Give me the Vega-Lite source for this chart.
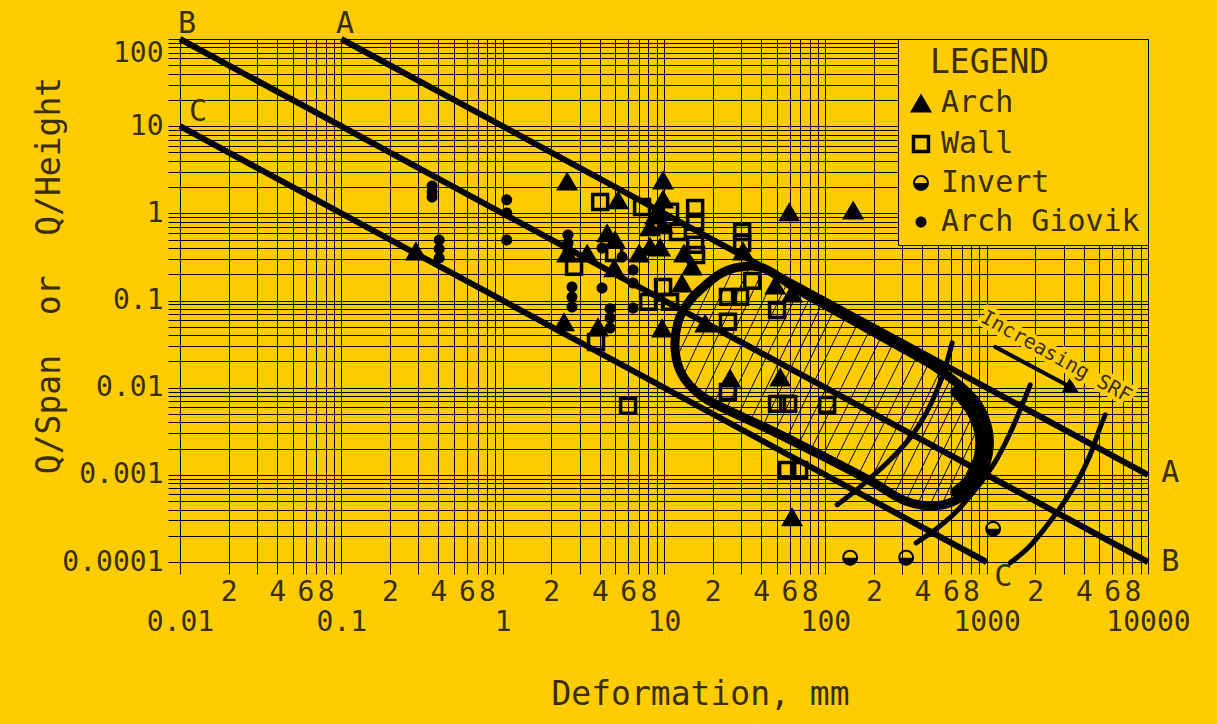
{
  "$schema": "https://vega.github.io/schema/vega-lite/v6.json",
  "width": 968,
  "height": 523,
  "autosize": "none",
  "padding": {"left": 180, "top": 39, "right": 69, "bottom": 162},
  "background": "#FFCC00",
  "config": {
    "view": {"stroke": null},
    "font": "DejaVu Sans Mono",
    "axis": {
      "labelFont": "DejaVu Sans Mono",
      "titleFont": "DejaVu Sans Mono",
      "labelColor": "#3a2e00",
      "titleColor": "#3a2e00",
      "titleFontWeight": "normal",
      "gridColor": "#000000",
      "gridOpacity": 1,
      "gridWidth": 1,
      "tickColor": "#000000",
      "tickSize": 12,
      "tickWidth": 1,
      "domainColor": "#000000",
      "domainWidth": 1
    },
    "legend": {
      "orient": "top-right",
      "offset": 0,
      "fillColor": "#FFCC00",
      "strokeColor": "#000000",
      "padding": 8,
      "titleFont": "DejaVu Sans Mono",
      "titleFontSize": 33,
      "titleFontWeight": "normal",
      "titleColor": "#3a2e00",
      "titlePadding": 8,
      "labelFont": "DejaVu Sans Mono",
      "labelFontSize": 30,
      "labelColor": "#3a2e00",
      "labelOffset": 5,
      "labelLimit": 0,
      "rowPadding": 9,
      "symbolSize": 484,
      "symbolStrokeWidth": 3.5
    }
  },
  "datasets": {
    "points": [
      {"type": "Arch", "x": 0.29, "y": 0.371},
      {"type": "Arch", "x": 2.51, "y": 2.35},
      {"type": "Arch", "x": 9.87, "y": 2.42},
      {"type": "Arch", "x": 5.19, "y": 1.43},
      {"type": "Arch", "x": 9.87, "y": 1.46},
      {"type": "Arch", "x": 8.81, "y": 0.96},
      {"type": "Arch", "x": 8.2, "y": 0.7},
      {"type": "Arch", "x": 9.87, "y": 0.74},
      {"type": "Arch", "x": 4.44, "y": 0.6},
      {"type": "Arch", "x": 4.98, "y": 0.5},
      {"type": "Arch", "x": 2.51, "y": 0.35},
      {"type": "Arch", "x": 3.34, "y": 0.35},
      {"type": "Arch", "x": 7.01, "y": 0.35},
      {"type": "Arch", "x": 8.2, "y": 0.42},
      {"type": "Arch", "x": 9.46, "y": 0.41},
      {"type": "Arch", "x": 4.91, "y": 0.237},
      {"type": "Arch", "x": 13.3, "y": 0.35},
      {"type": "Arch", "x": 14.9, "y": 0.249},
      {"type": "Arch", "x": 12.9, "y": 0.159},
      {"type": "Arch", "x": 30.9, "y": 0.371},
      {"type": "Arch", "x": 59.7, "y": 1.04},
      {"type": "Arch", "x": 148.7, "y": 1.09},
      {"type": "Arch", "x": 2.4, "y": 0.0569},
      {"type": "Arch", "x": 3.9, "y": 0.0498},
      {"type": "Arch", "x": 9.73, "y": 0.0485},
      {"type": "Arch", "x": 18.0, "y": 0.0553},
      {"type": "Arch", "x": 25.7, "y": 0.0129},
      {"type": "Arch", "x": 52.5, "y": 0.0133},
      {"type": "Arch", "x": 48.9, "y": 0.151},
      {"type": "Arch", "x": 62.2, "y": 0.122},
      {"type": "Arch", "x": 62.2, "y": 0.00033},
      {"type": "Wall", "x": 4.02, "y": 1.35},
      {"type": "Wall", "x": 7.31, "y": 1.18},
      {"type": "Wall", "x": 10.9, "y": 1.04},
      {"type": "Wall", "x": 15.6, "y": 1.15},
      {"type": "Wall", "x": 15.6, "y": 0.8},
      {"type": "Wall", "x": 12.2, "y": 0.61},
      {"type": "Wall", "x": 15.6, "y": 0.435},
      {"type": "Wall", "x": 15.8, "y": 0.333},
      {"type": "Wall", "x": 30.5, "y": 0.61},
      {"type": "Wall", "x": 30.5, "y": 0.458},
      {"type": "Wall", "x": 2.77, "y": 0.243},
      {"type": "Wall", "x": 4.91, "y": 0.35},
      {"type": "Wall", "x": 9.87, "y": 0.143},
      {"type": "Wall", "x": 7.97, "y": 0.0964},
      {"type": "Wall", "x": 10.9, "y": 0.0964},
      {"type": "Wall", "x": 24.9, "y": 0.11},
      {"type": "Wall", "x": 29.6, "y": 0.11},
      {"type": "Wall", "x": 35.2, "y": 0.168},
      {"type": "Wall", "x": 50.2, "y": 0.078},
      {"type": "Wall", "x": 24.9, "y": 0.0569},
      {"type": "Wall", "x": 3.79, "y": 0.0335},
      {"type": "Wall", "x": 5.99, "y": 0.00618},
      {"type": "Wall", "x": 24.9, "y": 0.00895},
      {"type": "Wall", "x": 50.2, "y": 0.00652},
      {"type": "Wall", "x": 58.8, "y": 0.00652},
      {"type": "Wall", "x": 102.6, "y": 0.00635},
      {"type": "Wall", "x": 58.0, "y": 0.00114},
      {"type": "Wall", "x": 68.8, "y": 0.00114},
      {"type": "Invert", "x": 142.6, "y": 0.000112},
      {"type": "Invert", "x": 317, "y": 0.000112},
      {"type": "Invert", "x": 1097, "y": 0.00024},
      {"type": "Arch Giovik", "x": 0.365, "y": 2.06},
      {"type": "Arch Giovik", "x": 0.365, "y": 1.76},
      {"type": "Arch Giovik", "x": 0.365, "y": 1.54},
      {"type": "Arch Giovik", "x": 0.404, "y": 0.496},
      {"type": "Arch Giovik", "x": 0.404, "y": 0.391},
      {"type": "Arch Giovik", "x": 0.404, "y": 0.308},
      {"type": "Arch Giovik", "x": 1.06, "y": 1.43},
      {"type": "Arch Giovik", "x": 1.06, "y": 1.01},
      {"type": "Arch Giovik", "x": 1.06, "y": 0.496},
      {"type": "Arch Giovik", "x": 2.54, "y": 0.565},
      {"type": "Arch Giovik", "x": 2.54, "y": 0.458},
      {"type": "Arch Giovik", "x": 2.54, "y": 0.38},
      {"type": "Arch Giovik", "x": 2.69, "y": 0.143},
      {"type": "Arch Giovik", "x": 2.69, "y": 0.11},
      {"type": "Arch Giovik", "x": 2.69, "y": 0.0845},
      {"type": "Arch Giovik", "x": 4.13, "y": 0.401},
      {"type": "Arch Giovik", "x": 4.13, "y": 0.139},
      {"type": "Arch Giovik", "x": 4.63, "y": 0.0802},
      {"type": "Arch Giovik", "x": 4.63, "y": 0.063},
      {"type": "Arch Giovik", "x": 4.63, "y": 0.0485},
      {"type": "Arch Giovik", "x": 5.5, "y": 0.316},
      {"type": "Arch Giovik", "x": 6.43, "y": 0.224},
      {"type": "Arch Giovik", "x": 6.43, "y": 0.159},
      {"type": "Arch Giovik", "x": 6.43, "y": 0.0822}
    ],
    "lines": [
      {"line": "A", "x": 0.1, "y": 100},
      {"line": "A", "x": 10000, "y": 0.001},
      {"line": "B", "x": 0.01, "y": 100},
      {"line": "B", "x": 10000, "y": 0.0001},
      {"line": "C", "x": 0.01, "y": 10},
      {"line": "C", "x": 1000, "y": 0.0001}
    ],
    "outline": [
      {"i": 0, "x": 16.74, "y": 0.1323},
      {"i": 1, "x": 22.27, "y": 0.2018},
      {"i": 2, "x": 29.64, "y": 0.2428},
      {"i": 3, "x": 42.36, "y": 0.2304},
      {"i": 4, "x": 69.78, "y": 0.1289},
      {"i": 5, "x": 142.5, "y": 0.06152},
      {"i": 6, "x": 290.8, "y": 0.02937},
      {"i": 7, "x": 479.3, "y": 0.01732},
      {"i": 8, "x": 684.9, "y": 0.01049},
      {"i": 9, "x": 885.6, "y": 0.00635},
      {"i": 10, "x": 1021.6, "y": 0.003281},
      {"i": 11, "x": 1021.6, "y": 0.001696},
      {"i": 12, "x": 885.6, "y": 0.000876},
      {"i": 13, "x": 684.9, "y": 0.000545},
      {"i": 14, "x": 479.3, "y": 0.000441},
      {"i": 15, "x": 312.2, "y": 0.000503},
      {"i": 16, "x": 189.6, "y": 0.000854},
      {"i": 17, "x": 92.85, "y": 0.001696},
      {"i": 18, "x": 45.48, "y": 0.003281},
      {"i": 19, "x": 23.92, "y": 0.005711},
      {"i": 20, "x": 16.74, "y": 0.008267},
      {"i": 21, "x": 12.95, "y": 0.01402},
      {"i": 22, "x": 11.72, "y": 0.02713},
      {"i": 23, "x": 12.23, "y": 0.05684},
      {"i": 24, "x": 14.11, "y": 0.09385}
    ],
    "cap": [
      {"i": 0, "x": 637.9, "y": 0.008948},
      {"i": 1, "x": 790.2, "y": 0.005563},
      {"i": 2, "x": 898.4, "y": 0.003112},
      {"i": 3, "x": 898.4, "y": 0.001696},
      {"i": 4, "x": 790.2, "y": 0.000924},
      {"i": 5, "x": 637.9, "y": 0.000638}
    ],
    "hatch": [
      {"h": 1, "x": 12.06, "y": 0.02255}, {"h": 1, "x": 20.45, "y": 0.1769},
      {"h": 2, "x": 13.13, "y": 0.01365}, {"h": 2, "x": 26.82, "y": 0.2304},
      {"h": 3, "x": 15.37, "y": 0.01021}, {"h": 3, "x": 33.7, "y": 0.2365},
      {"h": 4, "x": 17.47, "y": 0.007842}, {"h": 4, "x": 41.16, "y": 0.2244},
      {"h": 5, "x": 20.45, "y": 0.006693}, {"h": 5, "x": 48.85, "y": 0.1915},
      {"h": 6, "x": 24.27, "y": 0.005637}, {"h": 6, "x": 57.98, "y": 0.1591},
      {"h": 7, "x": 28.81, "y": 0.004812}, {"h": 7, "x": 68.8, "y": 0.1341},
      {"h": 8, "x": 34.18, "y": 0.004107}, {"h": 8, "x": 81.2, "y": 0.1129},
      {"h": 9, "x": 40.58, "y": 0.003504}, {"h": 9, "x": 96.2, "y": 0.0946},
      {"h": 10, "x": 48.15, "y": 0.002991}, {"h": 10, "x": 113.9, "y": 0.07948},
      {"h": 11, "x": 57.15, "y": 0.002553}, {"h": 11, "x": 134.9, "y": 0.06694},
      {"h": 12, "x": 67.83, "y": 0.002179}, {"h": 12, "x": 160.0, "y": 0.05623},
      {"h": 13, "x": 80.47, "y": 0.00186}, {"h": 13, "x": 189.6, "y": 0.04723},
      {"h": 14, "x": 95.5, "y": 0.001587}, {"h": 14, "x": 224.4, "y": 0.03979},
      {"h": 15, "x": 113.4, "y": 0.001354}, {"h": 15, "x": 265.9, "y": 0.03351},
      {"h": 16, "x": 134.5, "y": 0.001156}, {"h": 16, "x": 314.6, "y": 0.02808},
      {"h": 17, "x": 159.7, "y": 0.000987}, {"h": 17, "x": 372.9, "y": 0.02359},
      {"h": 18, "x": 189.6, "y": 0.000854}, {"h": 18, "x": 441.9, "y": 0.01976},
      {"h": 19, "x": 225.0, "y": 0.000709}, {"h": 19, "x": 522.3, "y": 0.01643},
      {"h": 20, "x": 267.0, "y": 0.000597}, {"h": 20, "x": 602.6, "y": 0.01295},
      {"h": 21, "x": 316.9, "y": 0.000503}, {"h": 21, "x": 694.8, "y": 0.01049},
      {"h": 22, "x": 376.1, "y": 0.000477}, {"h": 22, "x": 784.6, "y": 0.00816},
      {"h": 23, "x": 446.3, "y": 0.000453}, {"h": 23, "x": 880.5, "y": 0.006434},
      {"h": 24, "x": 529.8, "y": 0.000465}, {"h": 24, "x": 948.4, "y": 0.004625},
      {"h": 25, "x": 628.9, "y": 0.000517}, {"h": 25, "x": 1014.4, "y": 0.003396},
      {"h": 26, "x": 746.4, "y": 0.000638}, {"h": 26, "x": 1021.6, "y": 0.002208}
    ],
    "curves": [
      {"c": 1, "i": 0, "x": 118.4, "y": 0.000453},
      {"c": 1, "i": 1, "x": 164.3, "y": 0.000729},
      {"c": 1, "i": 2, "x": 241.6, "y": 0.001373},
      {"c": 1, "i": 3, "x": 335.5, "y": 0.002657},
      {"c": 1, "i": 4, "x": 415.6, "y": 0.004875},
      {"c": 1, "i": 5, "x": 493.3, "y": 0.009434},
      {"c": 1, "i": 6, "x": 553.0, "y": 0.01687},
      {"c": 1, "i": 7, "x": 611.1, "y": 0.03264},
      {"c": 2, "i": 0, "x": 365.5, "y": 0.000166},
      {"c": 2, "i": 1, "x": 479.3, "y": 0.000234},
      {"c": 2, "i": 2, "x": 637.9, "y": 0.000367},
      {"c": 2, "i": 3, "x": 848.6, "y": 0.000673},
      {"c": 2, "i": 4, "x": 1129, "y": 0.001409},
      {"c": 2, "i": 5, "x": 1399, "y": 0.003031},
      {"c": 2, "i": 6, "x": 1661, "y": 0.00635},
      {"c": 2, "i": 7, "x": 1861, "y": 0.01077},
      {"c": 3, "i": 0, "x": 1399, "y": 0.0000979},
      {"c": 3, "i": 1, "x": 1808, "y": 0.0001455},
      {"c": 3, "i": 2, "x": 2305, "y": 0.0002467},
      {"c": 3, "i": 3, "x": 2938, "y": 0.000453},
      {"c": 3, "i": 4, "x": 3692, "y": 0.000876},
      {"c": 3, "i": 5, "x": 4381, "y": 0.001696},
      {"c": 3, "i": 6, "x": 4983, "y": 0.003281},
      {"c": 3, "i": 7, "x": 5428, "y": 0.004875}
    ],
    "arrow": [
      {"x": 1129, "y": 0.02937},
      {"x": 3201, "y": 0.01049}
    ],
    "arrowhead": [
      {"x": 3388, "y": 0.009687}
    ],
    "srf": [
      {"label": "Increasing SRF", "x": 2696, "y": 0.02255}
    ],
    "letters": [
      {"t": "A", "x": 0.1054, "y": 148.6},
      {"t": "B", "x": 0.01105, "y": 148.6},
      {"t": "C", "x": 0.01293, "y": 14.55},
      {"t": "A", "x": 13730, "y": 0.001054},
      {"t": "B", "x": 13730, "y": 0.0001},
      {"t": "C", "x": 1266, "y": 0.0000676}
    ]
  },
  "encoding": {
    "x": {
      "field": "x",
      "type": "quantitative",
      "scale": {"type": "log", "domain": [0.01, 10000], "nice": false},
      "axis": {
        "values": [0.01, 0.02, 0.03, 0.04, 0.05, 0.06, 0.07, 0.08, 0.09, 0.1, 0.2, 0.3, 0.4, 0.5, 0.6, 0.7, 0.8, 0.9, 1, 2, 3, 4, 5, 6, 7, 8, 9, 10, 20, 30, 40, 50, 60, 70, 80, 90, 100, 200, 300, 400, 500, 600, 700, 800, 900, 1000, 2000, 3000, 4000, 5000, 6000, 7000, 8000, 9000, 10000],
        "grid": true,
        "labelExpr": "round(datum.value / pow(10, floor(log(datum.value) / LN10 + 1e-6))) == 1 ? ['', format(datum.value, '~g')] : (indexof([2, 4, 6, 8], round(datum.value / pow(10, floor(log(datum.value) / LN10 + 1e-6)))) >= 0 ? '' + round(datum.value / pow(10, floor(log(datum.value) / LN10 + 1e-6))) : '')",
        "labelOverlap": false,
        "labelBound": false,
        "labelFlush": false,
        "labelFontSize": 28,
        "labelPadding": 4,
        "labelLineHeight": 30,
        "labelBaseline": "top",
        "title": "Deformation, mm",
        "titleFontSize": 33,
        "titleX": 520,
        "titleY": 142,
        "titleAlign": "center",
        "titleBaseline": "alphabetic",
        "titleAnchor": null
      }
    },
    "y": {
      "field": "y",
      "type": "quantitative",
      "scale": {"type": "log", "domain": [0.0001, 100], "nice": false},
      "axis": {
        "values": [0.0001, 0.0002, 0.0003, 0.0004, 0.0005, 0.0006, 0.0007, 0.0008, 0.0009, 0.001, 0.002, 0.003, 0.004, 0.005, 0.006, 0.007, 0.008, 0.009, 0.01, 0.02, 0.03, 0.04, 0.05, 0.06, 0.07, 0.08, 0.09, 0.1, 0.2, 0.3, 0.4, 0.5, 0.6, 0.7, 0.8, 0.9, 1, 2, 3, 4, 5, 6, 7, 8, 9, 10, 20, 30, 40, 50, 60, 70, 80, 90, 100],
        "grid": true,
        "labelExpr": "round(datum.value / pow(10, floor(log(datum.value) / LN10 + 1e-6))) == 1 ? format(datum.value, '~g') : ''",
        "labelOverlap": false,
        "labelBound": false,
        "labelFlush": false,
        "labelFontSize": 28,
        "labelPadding": 5,
        "labelBaseline": {"condition": {"test": "datum.value == 100", "value": "top"}, "value": "middle"},
        "title": "Q/Span\u00a0\u00a0or\u00a0\u00a0Q/Height",
        "titleFontSize": 33,
        "titleAngle": 270,
        "titleX": -121,
        "titleY": 236,
        "titleAlign": "center",
        "titleBaseline": "alphabetic",
        "titleAnchor": null
      }
    }
  },
  "layer": [
    {
      "data": {"name": "hatch"},
      "mark": {"type": "line", "color": "#000000", "strokeWidth": 1},
      "encoding": {"detail": {"field": "h", "type": "nominal"}}
    },
    {
      "data": {"name": "lines"},
      "mark": {"type": "line", "color": "#000000", "strokeWidth": 6},
      "encoding": {"detail": {"field": "line", "type": "nominal"}}
    },
    {
      "data": {"name": "outline"},
      "mark": {"type": "line", "color": "#000000", "strokeWidth": 9, "interpolate": "cardinal-closed"},
      "encoding": {"order": {"field": "i", "type": "quantitative"}}
    },
    {
      "data": {"name": "cap"},
      "mark": {"type": "line", "color": "#000000", "strokeWidth": 10, "interpolate": "cardinal", "strokeCap": "round"},
      "encoding": {"order": {"field": "i", "type": "quantitative"}}
    },
    {
      "data": {"name": "curves"},
      "mark": {"type": "line", "color": "#000000", "strokeWidth": 5, "interpolate": "cardinal", "strokeCap": "round"},
      "encoding": {"detail": {"field": "c", "type": "nominal"}, "order": {"field": "i", "type": "quantitative"}}
    },
    {
      "data": {"name": "arrow"},
      "mark": {"type": "line", "color": "#000000", "strokeWidth": 4, "strokeCap": "round"},
      "encoding": {}
    },
    {
      "data": {"name": "arrowhead"},
      "mark": {"type": "point", "shape": "triangle-right", "size": 300, "angle": 28, "filled": true, "color": "#000000", "opacity": 1}
    },
    {
      "data": {"name": "srf"},
      "mark": {"type": "text", "font": "DejaVu Sans Mono", "fontSize": 20, "angle": 29, "align": "center", "baseline": "middle", "stroke": "#FFCC00", "strokeWidth": 8, "color": "#FFCC00"},
      "encoding": {"text": {"field": "label"}}
    },
    {
      "data": {"name": "srf"},
      "mark": {"type": "text", "font": "DejaVu Sans Mono", "fontSize": 20, "angle": 29, "align": "center", "baseline": "middle", "color": "#3a2e00"},
      "encoding": {"text": {"field": "label"}}
    },
    {
      "data": {"name": "letters"},
      "mark": {"type": "text", "font": "DejaVu Sans Mono", "fontSize": 30, "align": "center", "baseline": "middle", "color": "#3a2e00"},
      "encoding": {"text": {"field": "t"}}
    },
    {
      "data": {"name": "points"},
      "mark": {"type": "point", "opacity": 1, "strokeWidth": 3.5, "size": 484},
      "encoding": {
        "shape": {
          "field": "type", "type": "nominal",
          "scale": {"domain": ["Arch", "Wall", "Invert", "Arch Giovik"], "range": ["triangle-up", "M-0.68,-0.68H0.68V0.68H-0.68Z", "M-0.72,0A0.72,0.72,0,1,1,0.72,0A0.72,0.72,0,1,1,-0.72,0ZM-0.54,0A0.54,0.54,0,1,0,0.54,0A0.54,0.54,0,1,0,-0.54,0ZM-0.72,0L0.72,0A0.72,0.72,0,0,1,-0.72,0Z", "M-0.5,0A0.5,0.5,0,1,1,0.5,0A0.5,0.5,0,1,1,-0.5,0Z"]},
          "legend": {"title": "\u2800LEGEND"}
        },
        "fill": {
          "field": "type", "type": "nominal",
          "scale": {"domain": ["Arch", "Wall", "Invert", "Arch Giovik"], "range": ["#000000", "transparent", "#000000", "#000000"]},
          "legend": {"title": "\u2800LEGEND"}
        },
        "stroke": {
          "field": "type", "type": "nominal",
          "scale": {"domain": ["Arch", "Wall", "Invert", "Arch Giovik"], "range": ["transparent", "#000000", "transparent", "transparent"]},
          "legend": {"title": "\u2800LEGEND"}
        }
      }
    }
  ]
}
